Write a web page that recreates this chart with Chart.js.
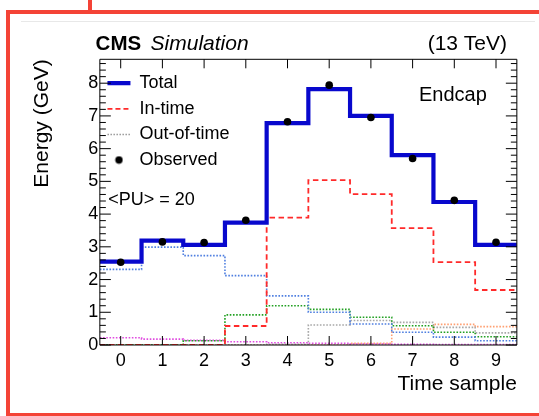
<!DOCTYPE html>
<html><head><meta charset="utf-8">
<script src="https://cdn.jsdelivr.net/npm/chart.js@4.4.1/dist/chart.umd.min.js"></script>
<style>
html,body{margin:0;padding:0;background:#fff;}
#wrap{position:relative;width:539px;height:416px;overflow:hidden;background:#fff;}
#c{position:absolute;left:0;top:0;}
.mark{position:absolute;background:#f44336;}
.rule{position:absolute;background:#e8e8e8;}
</style></head><body>
<div id="wrap">
<canvas id="c" width="539" height="416"></canvas>
<div class="rule" style="left:21px;top:21px;width:514px;height:1px"></div>
<div class="mark" style="left:6px;top:10px;width:4px;height:406px"></div>
<div class="mark" style="left:6px;top:10px;width:533px;height:4px"></div>
<div class="mark" style="left:6px;top:413px;width:533px;height:3px"></div>
<div class="mark" style="left:88px;top:0px;width:4px;height:12px"></div>
</div>
<script>
// ---- data ----
const timeSamples = [0, 1, 2, 3, 4, 5, 6, 7, 8, 9];
const xTickLabels = ['0', '1', '2', '3', '4', '5', '6', '7', '8', '9'];
const yTickValues = [0, 1, 2, 3, 4, 5, 6, 7, 8];
const totalEnergy    = [2.55, 3.19, 3.06, 3.74, 6.78, 7.82, 7.00, 5.80, 4.37, 3.06];
const inTimeEnergy   = [0, 0, 0, 0.58, 3.89, 5.04, 4.61, 3.57, 2.53, 1.68];
const observedEnergy = [2.53, 3.15, 3.13, 3.81, 6.82, 7.94, 6.95, 5.70, 4.42, 3.14];
const outOfTimeA = [2.31, 2.99, 2.73, 2.12, 1.50, 1.00, 0.64, 0.39, 0.24, 0.13];
const outOfTimeB = [0, 0, 0.13, 0.92, 1.20, 1.09, 0.85, 0.59, 0.39, 0.25];
const outOfTimeC = [0.22, 0.18, 0.14, 0.10, 0.07, 0.05, 0.03, 0.02, 0.01, 0.01];
const outOfTimeD = [0, 0, 0, 0, 0.02, 0.61, 0.75, 0.69, 0.54, 0.37];
const outOfTimeE = [0, 0, 0, 0, 0, 0, 0.05, 0.49, 0.63, 0.56];

const FONT = '"Liberation Sans", Arial, Helvetica, sans-serif';
const totalColor = 'rgb(8,8,205)';
const inTimeColor = '#ff2a2a';
const ootColors = ['#4f7fe0', '#22a022', '#e04ce0', '#a8a8a8', '#ffa072'];
const ootSeries = [outOfTimeA, outOfTimeB, outOfTimeC, outOfTimeD, outOfTimeE];

function histPoints(vals) {
  const pts = [];
  vals.forEach((v, i) => {
    pts.push({x: timeSamples[i] - 0.5, y: v});
    pts.push({x: timeSamples[i] + 0.5, y: v});
  });
  return pts;
}

const dot = document.createElement('canvas');
dot.width = 9; dot.height = 9;
{ const dc = dot.getContext('2d'); dc.fillStyle = '#000'; dc.beginPath(); dc.arc(4.5, 4.5, 3.7, 0, Math.PI * 2); dc.fill(); }

const datasets = [
  {type: 'scatter', label: 'Observed', data: timeSamples.map((t, i) => ({x: t, y: observedEnergy[i]})),
   pointRadius: 3.8, pointBackgroundColor: '#000', pointBorderWidth: 0, showLine: false},
  {type: 'line', label: 'Total', data: histPoints(totalEnergy), borderColor: totalColor, borderWidth: 4.2,
   pointRadius: 0, tension: 0, fill: false, borderJoinStyle: 'miter', borderCapStyle: 'butt'},
  {type: 'line', label: 'In-time', data: histPoints(inTimeEnergy), borderColor: inTimeColor, borderWidth: 1.8,
   borderDash: [5.5, 3.5], pointRadius: 0, tension: 0, fill: false, borderJoinStyle: 'miter'},
];
ootSeries.forEach((s, k) => {
  datasets.push({type: 'line', label: 'Out-of-time ' + (k + 1), data: histPoints(s), borderColor: ootColors[k],
    borderWidth: 1.6, borderDash: [1.6, 1.6], pointRadius: 0, tension: 0, fill: false, borderJoinStyle: 'miter'});
});

const frameTicks = {
  id: 'frameTicks',
  afterDatasetsDraw(chart) {
    const {ctx, chartArea: a, scales: {x, y}} = chart;
    ctx.save();
    ctx.strokeStyle = '#000';
    ctx.lineWidth = 1;
    ctx.setLineDash([]);
    ctx.beginPath();
    ctx.rect(a.left, a.top, a.right - a.left, a.bottom - a.top);
    yTickValues.forEach(v => {
      const py = y.getPixelForValue(v);
      ctx.moveTo(a.left, py); ctx.lineTo(a.left + 11, py);
      ctx.moveTo(a.right, py); ctx.lineTo(a.right - 11, py);
      for (let k = 1; k < 5; k++) {
        const mv = v + k * 0.2;
        if (mv > y.max) break;
        const my = y.getPixelForValue(mv);
        ctx.moveTo(a.left, my); ctx.lineTo(a.left + 6, my);
        ctx.moveTo(a.right, my); ctx.lineTo(a.right - 6, my);
      }
    });
    timeSamples.forEach(t => {
      const px = x.getPixelForValue(t);
      ctx.moveTo(px, a.bottom); ctx.lineTo(px, a.bottom - 9);
      ctx.moveTo(px, a.top); ctx.lineTo(px, a.top + 9);
    });
    ctx.stroke();
    ctx.restore();
  },
  afterDraw(chart) {
    const ctx = chart.ctx;
    ctx.save();
    ctx.fillStyle = '#000';
    ctx.textBaseline = 'alphabetic';
    ctx.textAlign = 'left';
    ctx.font = 'bold 20.5px ' + FONT;
    ctx.fillText('CMS', 95.6, 50);
    ctx.font = 'italic 21px ' + FONT;
    ctx.fillText('Simulation', 150.6, 50);
    ctx.textAlign = 'right';
    ctx.font = '21px ' + FONT;
    ctx.fillText('(13 TeV)', 507, 50);
    ctx.textAlign = 'left';
    ctx.font = '20px ' + FONT;
    ctx.fillText('Endcap', 419, 101);
    ctx.font = '18px ' + FONT;
    ctx.fillText('<PU> = 20', 108.3, 205);
    ctx.restore();
  }
};

new Chart(document.getElementById('c'), {
  data: {datasets},
  options: {
    responsive: false,
    animation: false,
    events: [],
    layout: {padding: {left: 0, right: 22.15, top: 59.3, bottom: 19}},
    scales: {
      x: {
        type: 'linear', min: -0.5, max: 9.5,
        afterBuildTicks: s => { s.ticks = timeSamples.map(v => ({value: v})); },
        afterFit: s => { s.height = 52; },
        ticks: {callback: (v) => xTickLabels[timeSamples.indexOf(v)], color: '#000', padding: 5,
                font: {family: FONT, size: 18}, maxRotation: 0, autoSkip: false},
        grid: {display: false, drawTicks: false},
        border: {display: false},
        title: {display: true, text: 'Time sample', align: 'end', color: '#000',
                font: {family: FONT, size: 21}, padding: 0}
      },
      y: {
        type: 'linear', min: 0, max: 8.73,
        afterBuildTicks: s => { s.ticks = yTickValues.map(v => ({value: v})); },
        afterFit: s => { s.width = 99.85; },
        ticks: {color: '#000', padding: 1.5, font: {family: FONT, size: 18}, autoSkip: false},
        grid: {display: false, drawTicks: false},
        border: {display: false},
        title: {display: true, text: 'Energy (GeV)', align: 'end', color: '#000',
                font: {family: FONT, size: 21}, padding: {top: 30.1, bottom: 0}}
      }
    },
    plugins: {
      tooltip: {enabled: false},
      legend: {
        position: 'chartArea', align: 'start',
        title: {display: true, text: '', font: {size: 6}, padding: {top: 59.4, bottom: 0}},
        labels: {
          usePointStyle: true, pointStyleWidth: 23, padding: 7.6, color: '#000',
          font: {family: FONT, size: 18},
          generateLabels: () => [
            {text: 'Total', pointStyle: 'line', strokeStyle: totalColor, fillStyle: totalColor, lineWidth: 4.2, lineDash: [], fontColor: '#000', hidden: false},
            {text: 'In-time', pointStyle: 'line', strokeStyle: inTimeColor, fillStyle: inTimeColor, lineWidth: 1.8, lineDash: [5, 3], fontColor: '#000', hidden: false},
            {text: 'Out-of-time', pointStyle: 'line', strokeStyle: '#9a9a9a', fillStyle: '#9a9a9a', lineWidth: 1.5, lineDash: [1.5, 1.5], fontColor: '#000', hidden: false},
            {text: 'Observed', pointStyle: dot, strokeStyle: '#000', fillStyle: '#000', lineWidth: 0, fontColor: '#000', hidden: false}
          ]
        }
      }
    }
  },
  plugins: [frameTicks]
});
</script>
</body></html>
